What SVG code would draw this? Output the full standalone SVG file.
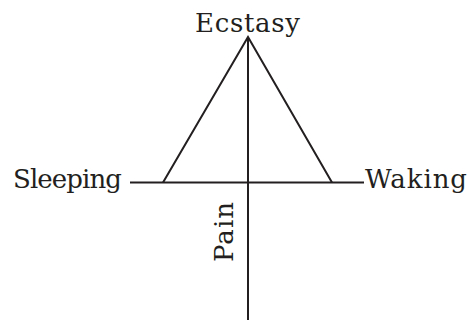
<svg xmlns="http://www.w3.org/2000/svg" width="470" height="320" viewBox="0 0 470 320">
<style>
.lbl{font-family:"DejaVu Serif","Liberation Serif",serif;font-size:26px;fill:#231f20}
.ln{stroke:#231f20;stroke-width:2;fill:none}
</style>
<rect width="470" height="320" fill="#fff"/>
<g id="connectors">
<line class="ln" x1="130" y1="182.5" x2="364" y2="182.5"/>
<line class="ln" x1="248" y1="37" x2="248" y2="320"/>
<polyline class="ln" points="163,182.5 248,37 332,182.5"/>
</g>
<g id="ecstasy"><text class="lbl" x="195" y="32" textLength="105" lengthAdjust="spacing">Ecstasy</text></g>
<g id="sleeping"><text class="lbl" x="13" y="188" textLength="109" lengthAdjust="spacing">Sleeping</text></g>
<g id="waking"><text class="lbl" x="365" y="188" textLength="102" lengthAdjust="spacing">Waking</text></g>
<g id="pain"><text class="lbl" transform="translate(233,262) rotate(-90)" textLength="60" lengthAdjust="spacing">Pain</text></g>
</svg>
